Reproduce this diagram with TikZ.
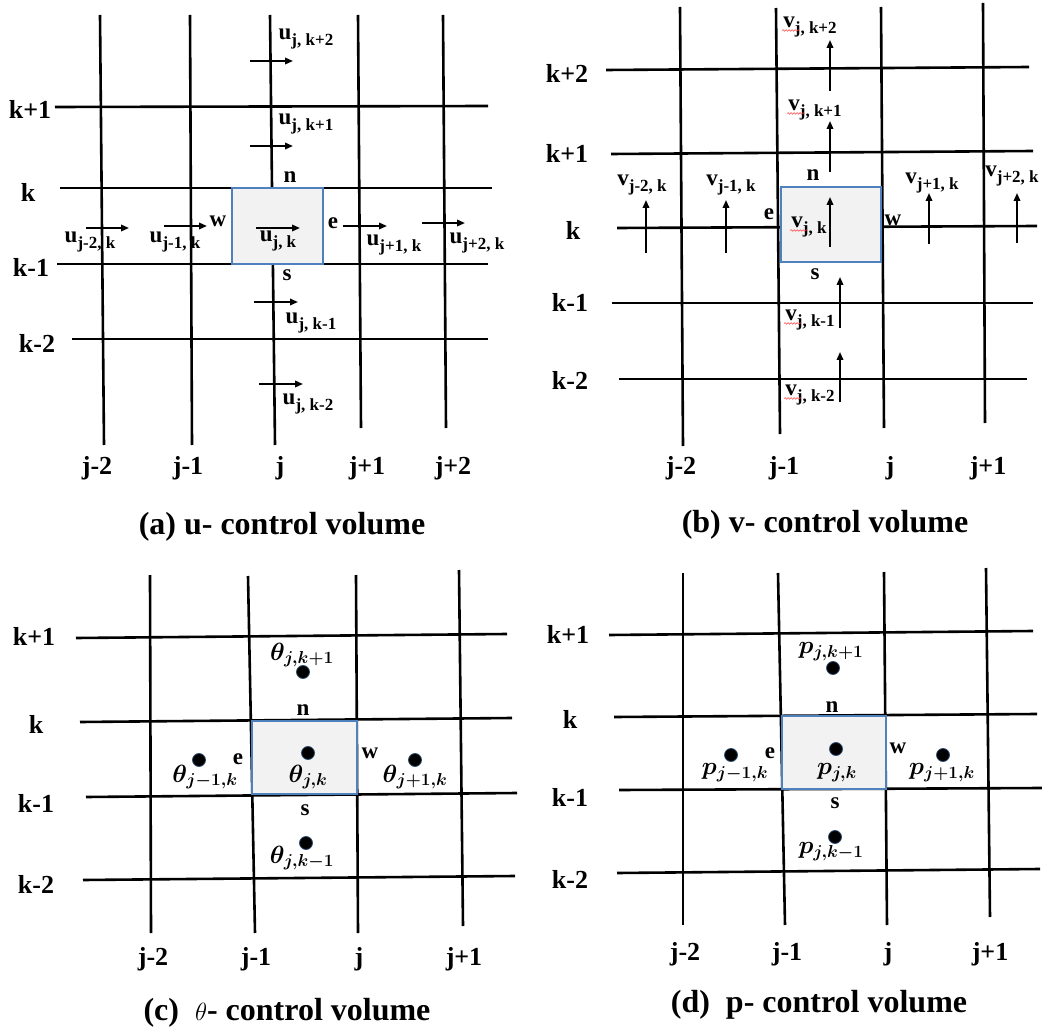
\documentclass[tikz,border=0pt]{standalone}
\usepackage{amsmath,amssymb,bm}
\usepackage{fontspec}
\setmainfont{Liberation Serif}[BoldFont={Liberation Serif Bold}]
\usepackage{tikz}
\usetikzlibrary{arrows.meta,decorations.pathmorphing}

\definecolor{cvblue}{RGB}{79,129,189}
\definecolor{cvgray}{RGB}{242,242,242}
\newcommand{\velab}[2]{#1\raisebox{-6pt}{\fontsize{17}{19}\selectfont #2}}

\begin{document}
\begin{tikzpicture}[x=1pt,y=-1pt,
  >={Triangle[length=8pt,width=6.5pt]},
  gline/.style={line width=2.6pt},
  cvbox/.style={draw=cvblue,line width=1.1pt,fill=cvgray},
  idx/.style={font=\fontsize{26}{28}\selectfont\bfseries},
  face/.style={font=\fontsize{23}{25}\selectfont\bfseries},
  vel/.style={font=\fontsize{23}{25}\selectfont\bfseries,inner sep=1pt},
  vec/.style={->,line width=1.8pt},
  pdot/.style={circle,fill=black,draw=cvblue!60!black,line width=0.8pt,minimum size=13pt,inner sep=0pt},
  sym/.style={font=\fontsize{24}{26}\selectfont,inner sep=1pt},
  capt/.style={font=\fontsize{32}{35}\selectfont\bfseries},
  squig/.style={red!80,line width=0.5pt,decorate,decoration={snake,amplitude=0.8pt,segment length=3pt}}
]
  \useasboundingbox (0,0) rectangle (1042,1032);

  % ---------- (a) u- control volume ----------
  \foreach \xa/\ya/\xb/\yb in {100/15/104/445,190/15/192/445,270/15/275/445,358/15/361/428,443/15/446/428,
      55/107/488/106,60/188/492/188,57/264/488/264,72/339/488/339}
    \draw[gline] (\xa,\ya) -- (\xb,\yb);
  \draw[cvbox] (232,188) rectangle (323,264);

  \foreach \lab/\x/\y [count=\i] in {k+1/30/109,k/28/192,k-1/31/267,k-2/37/343}
    \node[idx] (ak\i) at (\x,\y) {\lab};
  \foreach \lab/\x/\y [count=\i] in {j-2/97/468,j-1/188/468,j/280/468,j+1/367/468,j+2/453/468}
    \node[idx] (aj\i) at (\x,\y) {\lab};

  \node[face] (an) at (290,177) {n};
  \node[face] (as) at (287,275) {s};
  \node[face] (aw) at (218,221) {w};
  \node[face] (ae) at (333,223) {e};

  % u-Geschwindigkeiten auf den Zellflaechen
  \foreach \xa/\xb/\y in {250/293/61,250/293/146,86/129/228,164/207/226,256/300/228,
      343/387/226,422/465/223,254/298/302,259/303/384}
    \draw[vec] (\xa,\y) -- (\xb,\y);
  \foreach \sub/\x/\y [count=\i] in {{j, k+2}/306/39,{j, k+1}/306/124,{j-2, k}/90/242,
      {j-1, k}/175/242,{j, k}/278/241,{j+1, k}/394/245,{j+2, k}/477/243,
      {j, k-1}/311/323,{j, k-2}/308/404}
    \node[vel] (au\i) at (\x,\y) {\velab{u}{\sub}};

  \node[capt] (capa) at (282,527) {(a) u- control volume};

  % ---------- (b) v- control volume ----------
  \foreach \xa/\ya/\xb/\yb in {680/7/683/446,776/8/780/434,881/7/884/428,983/3/985/423,
      606/70/1029/67,611/154/1033/151,617/228/1037/226,612/303/1033/303,619/379/1027/379}
    \draw[gline] (\xa,\ya) -- (\xb,\yb);
  \draw[cvbox] (781,187) rectangle (881,262);

  \foreach \lab/\x/\y [count=\i] in {k+2/567/73,k+1/567/153,k/573/230,k-1/570/302,k-2/570/380}
    \node[idx] (bk\i) at (\x,\y) {\lab};
  \foreach \lab/\x/\y [count=\i] in {j-2/681/468,j-1/784/468,j/890/468,j+1/988/468}
    \node[idx] (bj\i) at (\x,\y) {\lab};

  \node[face] (bn) at (813,175) {n};
  \node[face] (bs) at (815,274) {s};
  \node[face] (be) at (769,214) {e};
  \node[face] (bw) at (893,220) {w};

  % v-Geschwindigkeiten
  \foreach \x/\ya/\yb in {830/91/40,830/172/121,646/253/200,726/253/200,830/247/197,
      929/244/193,1017/243/193,840/328/277,840/402/352}
    \draw[vec] (\x,\ya) -- (\x,\yb);
  \foreach \sub/\x/\y [count=\i] in {{j, k+2}/810/27,{j, k+1}/815/110,{j-2, k}/642/185,
      {j-1, k}/731/185,{j, k}/809/227,{j+1, k}/932/183,{j+2, k}/1012/176,
      {j, k-1}/810/320,{j, k-2}/810/395}
    \node[vel] (bv\i) at (\x,\y) {\velab{v}{\sub}};
  \foreach \i in {1,2,5,8,9}
    \draw[squig] ([yshift=-3pt]bv\i.base west) -- ++(17,0);

  \node[capt] (capb) at (825,525) {(b) v- control volume};

  % ---------- (c) theta- control volume ----------
  \foreach \xa/\ya/\xb/\yb in {150/575/151/933,248/576/255/933,356/575/358/933,459/570/463/926,
      76/638/507/634,80/722/512/718,86/797/517/793,83/880/515/876}
    \draw[gline] (\xa,\ya) -- (\xb,\yb);
  \draw[cvbox] (252,721) rectangle (357,794);

  \foreach \lab/\x/\y [count=\i] in {k+1/34/636,k/36/724,k-1/36/803,k-2/36/884}
    \node[idx] (ck\i) at (\x,\y) {\lab};
  \foreach \lab/\x/\y [count=\i] in {j-2/153/959,j-1/256/959,j/359/959,j+1/464/959}
    \node[idx] (cj\i) at (\x,\y) {\lab};

  \node[face] (cn) at (303,710) {n};
  \node[face] (cs) at (305,810) {s};
  \node[face] (ce) at (238,759) {e};
  \node[face] (cw) at (370,753) {w};

  \foreach \x/\y [count=\i] in {303/672,199/760,308/753,415/760,306/843}
    \node[pdot] (cd\i) at (\x,\y) {};
  \foreach \sub/\x/\y [count=\i] in {{j,k+1}/302/655,{j-1,k}/205/777,{j,k}/308/777,
      {j+1,k}/415/777,{j,k-1}/302/858}
    \node[sym] (ct\i) at (\x,\y) {$\bm{\theta_{\sub}}$};

  \node[capt] (capc) at (287,1013) {(c)\ \ {\mdseries\fontsize{24}{26}\selectfont$\theta$}- control volume};

  % ---------- (d) p- control volume ----------
  \foreach \xa/\ya/\xb/\yb in {683/573/683/925,778/573/785/925,884/572/887/925,986/568/990/917,
      609/635/1033/631,614/717/1037/714,619/790/1042/788,617/873/1040/869}
    \draw[gline] (\xa,\ya) -- (\xb,\yb);
  \draw[cvbox] (782,716) rectangle (886,789);

  \foreach \lab/\x/\y [count=\i] in {k+1/568/634,k/570/719,k-1/570/797,k-2/570/879}
    \node[idx] (dk\i) at (\x,\y) {\lab};
  \foreach \lab/\x/\y [count=\i] in {j-2/685/954,j-1/787/954,j/888/954,j+1/990/954}
    \node[idx] (dj\i) at (\x,\y) {\lab};

  \node[face] (dn) at (832,707) {n};
  \node[face] (ds) at (835,803) {s};
  \node[face] (de) at (770,753) {e};
  \node[face] (dw) at (898,748) {w};

  \foreach \x/\y [count=\i] in {833/668,731/755,836/749,943/755,835/837}
    \node[pdot] (dd\i) at (\x,\y) {};
  \foreach \sub/\x/\y [count=\i] in {{j,k+1}/831/652,{j-1,k}/735/773,{j,k}/837/773,
      {j+1,k}/942/773,{j,k-1}/831/852}
    \node[sym] (dp\i) at (\x,\y) {$\bm{p_{\sub}}$};

  \node[capt] (capd) at (819,1005) {(d)\ \ p- control volume};
\end{tikzpicture}
\end{document}
